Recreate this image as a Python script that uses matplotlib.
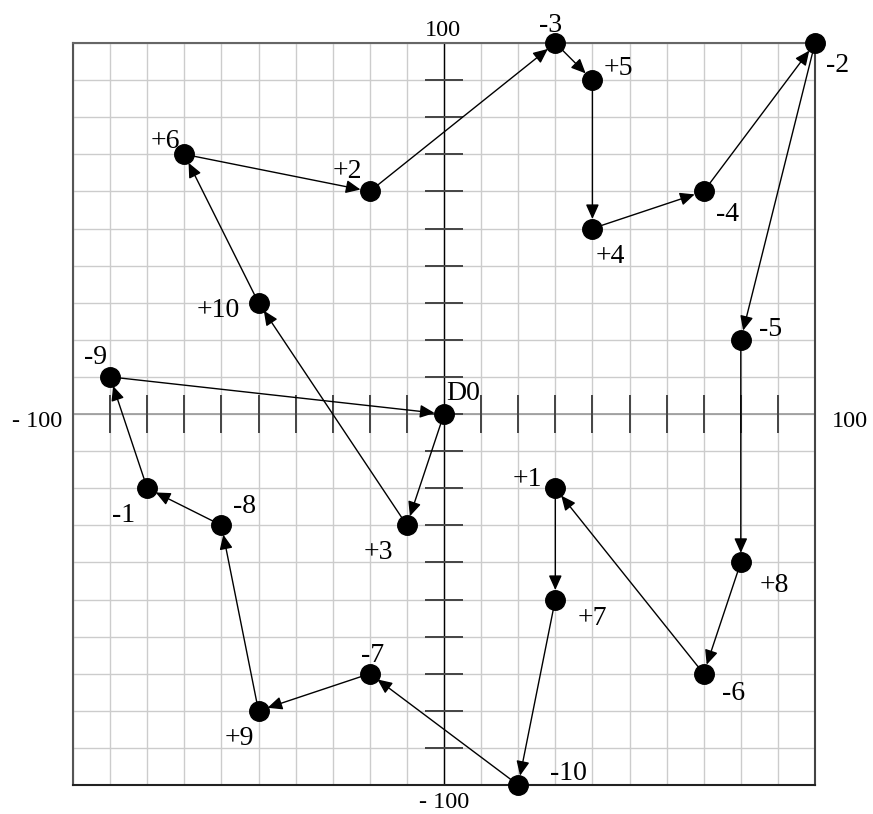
import matplotlib
matplotlib.use("Agg")
import matplotlib.pyplot as plt

# ---- data ----
labels = ['D0', '+1', '-1', '+2', '-2', '+3', '-3', '+4', '-4', '+5', '-5',
          '+6', '-6', '+7', '-7', '+8', '-8', '+9', '-9', '+10', '-10']
xs = [0, 30, -80, -20, 100, -10, 30, 40, 70, 40, 80,
      -70, 70, 30, -20, 80, -60, -50, -90, -50, 20]
ys = [0, -20, -20, 60, 100, -30, 100, 50, 60, 90, 20,
      70, -70, -50, -70, -40, -30, -80, 10, 30, -100]
path = ['D0', '+3', '+10', '+6', '+2', '-3', '+5', '+4', '-4', '-2', '-5',
        '+8', '-6', '+1', '+7', '-10', '-7', '+9', '-8', '-1', '-9', 'D0']
grid_ticks = list(range(-100, 101, 10))
axis_tick_labels = {'top': '100', 'bottom': '- 100', 'left': '- 100', 'right': '100'}

# ---- style: label offsets in pixels (right, down) of text centre ----
label_offsets = {
    'D0': (19, -23), '+1': (-28, -12), '-1': (-24, 24), '+2': (-22, -23),
    '-2': (23, 19), '+3': (-29, 24), '-3': (-5, -20), '+4': (18, 25),
    '-4': (24, 20), '+5': (26, -15), '-5': (30, -13), '+6': (-19, -16),
    '-6': (30, 17), '+7': (37, 16), '-7': (3, -21), '+8': (34, 20),
    '-8': (23, -22), '+9': (-19, 25), '-9': (-15, -22), '+10': (-40, 5),
    '-10': (50, -14),
}

W, H, DPI = 873, 814, 100
PT = 72.0 / DPI  # points per pixel
FONT = 'Liberation Serif'
FS = 20
FS_AX = 17.5

fig = plt.figure(figsize=(W / DPI, H / DPI), dpi=DPI)
ax = fig.add_axes([73 / W, (H - 785) / H, 742 / W, 742 / H])
ax.set_xlim(-100, 100)
ax.set_ylim(-100, 100)

# grid
ax.set_xticks(grid_ticks)
ax.set_yticks(grid_ticks)
ax.tick_params(length=0, labelbottom=False, labelleft=False)
ax.grid(True, color='#cccccc', lw=1.0, zorder=0)
ax.set_axisbelow(True)
for side, col in [('top', '#666666'), ('left', '#555555'),
                  ('bottom', '#222222'), ('right', '#444444')]:
    ax.spines[side].set_color(col)
    ax.spines[side].set_linewidth(1.5)

# central axes
ax.axhline(0, color='#999999', lw=1.2, zorder=1)
ax.axvline(0, color='black', lw=1.0, zorder=1)
xt = [t for t in grid_ticks if t != 0]
ax.plot(xt, [0] * len(xt), ls='none', marker='|', ms=38 * PT, mew=1.4,
        color='#444444', zorder=2, clip_on=False)
ax.plot([0] * len(grid_ticks), grid_ticks, ls='none', marker='_', ms=38 * PT,
        mew=1.4, color='#444444', zorder=2, clip_on=False)

# axis tick labels
tk = dict(fontsize=FS_AX, family=FONT, ha='center', va='baseline',
          textcoords='offset points', annotation_clip=False)
ax.annotate(axis_tick_labels['top'], xy=(0, 100), xytext=(-1 * PT, 7 * PT), **tk)
ax.annotate(axis_tick_labels['bottom'], xy=(0, -100), xytext=(0, -23 * PT), **tk)
ax.annotate(axis_tick_labels['left'], xy=(-100, 0), xytext=(-36 * PT, -13 * PT), **tk)
ax.annotate(axis_tick_labels['right'], xy=(100, 0), xytext=(35 * PT, -13 * PT), **tk)

pos = {n: (x, y) for n, x, y in zip(labels, xs, ys)}

# arrows
for a, b in zip(path[:-1], path[1:]):
    ax.annotate('', xy=pos[b], xytext=pos[a],
                arrowprops=dict(arrowstyle='-|>,head_length=0.4,head_width=0.18',
                                color='black', lw=1.0, shrinkA=0,
                                shrinkB=9.5 * PT, mutation_scale=22),
                zorder=3, annotation_clip=False)

# points
ax.plot(xs, ys, ls='none', marker='o', ms=19.5 * PT, color='black',
        zorder=4, clip_on=False)

# point labels
for n in labels:
    dx, dy = label_offsets[n]
    ax.annotate(n, xy=pos[n], xytext=(dx * PT, -(dy + 9.5) * PT),
                textcoords='offset points', ha='center', va='baseline',
                fontsize=FS, family=FONT, zorder=5, annotation_clip=False)

fig.savefig('out.png', dpi=DPI)
